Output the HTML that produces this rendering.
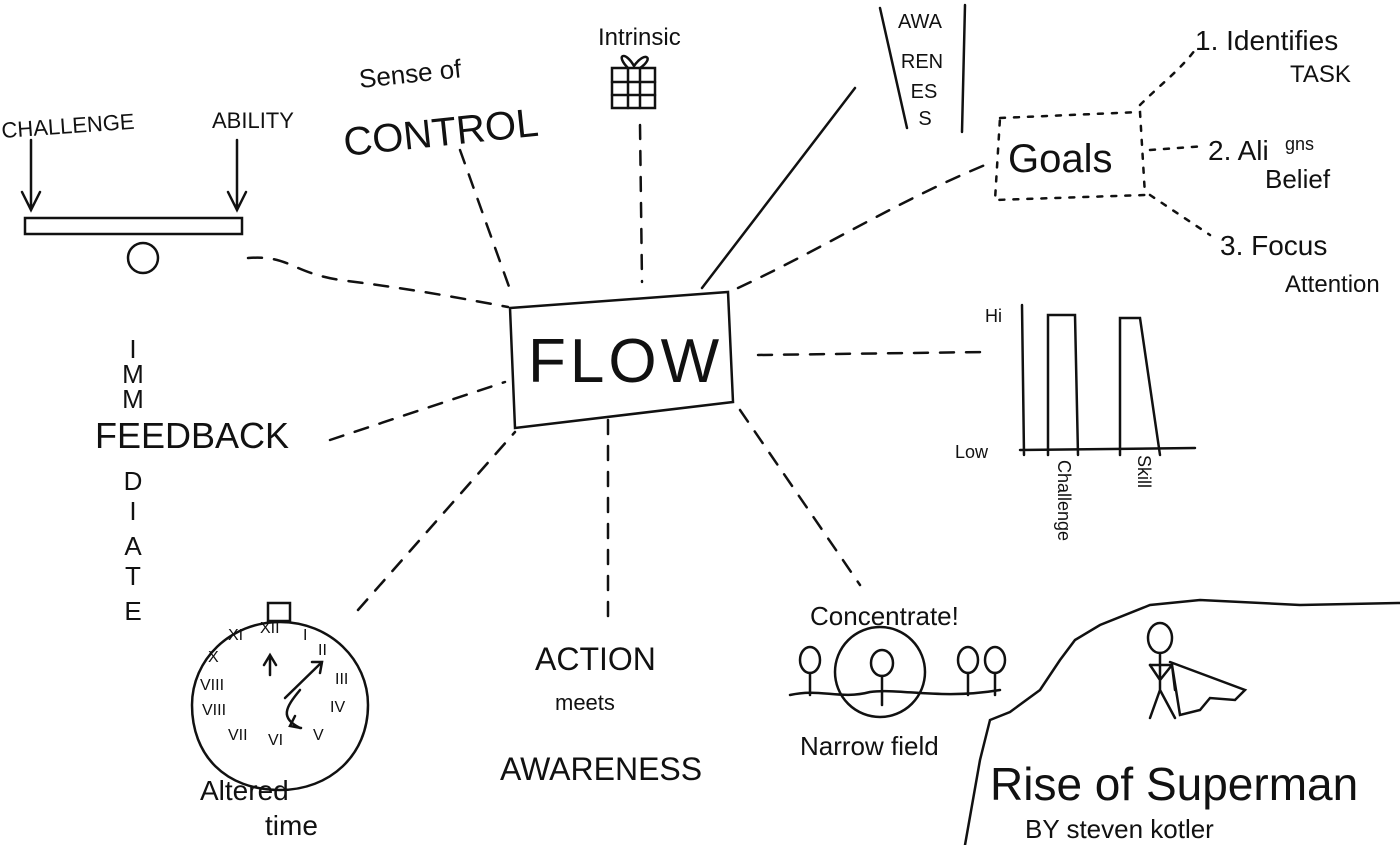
<!DOCTYPE html>
<html><head><meta charset="utf-8"><style>
html,body{margin:0;padding:0;background:#fff;}
svg{display:block;}
text{font-family:"Liberation Sans",sans-serif;fill:#111;}
</style></head><body>
<svg width="1400" height="845" viewBox="0 0 1400 845" xmlns="http://www.w3.org/2000/svg">
<rect width="1400" height="845" fill="#fff"/>
<g fill="none" stroke="#111" stroke-width="2.5" stroke-linecap="round">
<path d="M510 308 L728 292 L733 402 L515 428 Z"/>
<rect x="25" y="218" width="217" height="16"/>
<circle cx="143" cy="258" r="15"/>
<path d="M31 140 L31 210 M22 192 L31 210 L40 192"/>
<path d="M237 140 L237 210 M228 192 L237 210 L246 192"/>
<rect x="612" y="68" width="43" height="40"/>
<path d="M612 82 H655 M612 95 H655 M628 68 V108 M640 68 V108 M628 68 C615 55 625 50 634 66 C645 50 655 58 640 68"/>
<path d="M880 8 L907 128 M965 5 L962 132"/>
<path d="M702 288 L855 88"/>
<path d="M1022 305 L1024 455 M1020 450 L1195 448"/>
<path d="M1048 455 L1048 315 L1075 315 L1078 455"/>
<path d="M1120 455 L1120 318 L1140 318 L1160 455"/>
<path d="M280 622 C330 622 368 660 368 705 C368 755 330 790 280 790 C225 790 192 755 192 705 C192 660 230 622 280 622 Z"/>
<rect x="268" y="603" width="22" height="18"/>
<path d="M285 698 L322 662 M312 662 L322 662 L320 673"/>
<path d="M270 655 L270 675 M264 665 L270 655 L276 665"/>
<path d="M300 690 C285 708 280 718 300 728 M295 716 L290 726 L301 728"/>
<circle cx="880" cy="672" r="45"/>
<path d="M790 695 C820 688 840 700 870 692 C900 688 940 700 1000 690"/>
<ellipse cx="810" cy="660" rx="10" ry="13"/><path d="M810 673 L810 695"/>
<ellipse cx="882" cy="663" rx="11" ry="13"/><path d="M882 676 L882 705"/>
<ellipse cx="968" cy="660" rx="10" ry="13"/><path d="M968 673 L968 695"/>
<ellipse cx="995" cy="660" rx="10" ry="13"/><path d="M995 673 L995 695"/>
<path d="M965 845 L980 760 L990 720 L1010 712 L1040 690 L1060 660 L1075 640 L1100 625 L1150 605 L1200 600 L1300 605 L1400 603"/>
<ellipse cx="1160" cy="638" rx="12" ry="15"/>
<path d="M1160 653 L1160 690 M1160 690 L1150 718 M1160 690 L1175 718 M1150 665 L1160 680 L1172 665"/>
<path d="M1150 665 L1172 665 L1175 690 M1170 662 L1245 690 L1235 700 L1210 698 L1200 710 L1180 715 L1172 665"/>
</g>
<g fill="none" stroke="#111" stroke-width="2.5" stroke-dasharray="14 12" stroke-linecap="round">
<path d="M248 258 C290 255 290 272 340 280 C420 290 470 300 508 307"/>
<path d="M460 150 L512 295"/>
<path d="M640 125 L642 282"/>
<path d="M738 288 C820 250 900 200 985 165"/>
<path d="M758 355 L985 352"/>
<path d="M330 440 L505 382"/>
<path d="M358 610 L515 432"/>
<path d="M608 420 L608 620"/>
<path d="M740 410 L860 585"/>
</g>
<g fill="none" stroke="#111" stroke-width="2.5" stroke-dasharray="5 9" stroke-linecap="round">
<path d="M1000 118 L1140 112 L1145 195 L995 200 Z"/>
<path d="M1140 105 C1160 85 1180 70 1195 50"/>
<path d="M1150 150 L1205 146"/>
<path d="M1150 195 L1210 235"/>
</g>
<text x="528" y="382" font-size="62" letter-spacing="4">FLOW</text>
<text x="2" y="138" font-size="22" transform="rotate(-4 2 138)">CHALLENGE</text>
<text x="212" y="128" font-size="22">ABILITY</text>
<text x="360" y="88" font-size="26" transform="rotate(-6 360 88)">Sense of</text>
<text x="345" y="156" font-size="40" transform="rotate(-6 345 156)">CONTROL</text>
<text x="598" y="45" font-size="24">Intrinsic</text>
<g font-size="20" text-anchor="middle">
<text x="920" y="28">AWA</text><text x="922" y="68">REN</text><text x="924" y="98">ES</text><text x="925" y="125">S</text>
</g>
<text x="1008" y="172" font-size="40">Goals</text>
<text x="1195" y="50" font-size="28">1. Identifies</text>
<text x="1290" y="82" font-size="24">TASK</text>
<text x="1208" y="160" font-size="28">2. Ali</text>
<text x="1285" y="150" font-size="18">gns</text>
<text x="1265" y="188" font-size="26">Belief</text>
<text x="1220" y="255" font-size="28">3. Focus</text>
<text x="1285" y="292" font-size="24">Attention</text>
<text x="985" y="322" font-size="18">Hi</text>
<text x="955" y="458" font-size="18">Low</text>
<text x="1058" y="460" font-size="18" transform="rotate(90 1058 460)">Challenge</text>
<text x="1138" y="455" font-size="18" transform="rotate(90 1138 455)">Skill</text>
<g font-size="26" text-anchor="middle">
<text x="133" y="358">I</text><text x="133" y="383">M</text><text x="133" y="408">M</text>
<text x="133" y="490">D</text><text x="133" y="520">I</text><text x="133" y="555">A</text><text x="133" y="585">T</text><text x="133" y="620">E</text>
</g>
<text x="95" y="448" font-size="36">FEEDBACK</text>
<g font-size="16">
<text x="228" y="640">XI</text><text x="260" y="633">XII</text><text x="303" y="640">I</text><text x="318" y="655">II</text>
<text x="208" y="662">X</text><text x="200" y="690">VIII</text><text x="202" y="715">VIII</text><text x="228" y="740">VII</text>
<text x="268" y="745">VI</text><text x="313" y="740">V</text><text x="330" y="712">IV</text><text x="335" y="684">III</text>
</g>
<text x="200" y="800" font-size="28">Altered</text>
<text x="265" y="835" font-size="28">time</text>
<text x="535" y="670" font-size="32">ACTION</text>
<text x="555" y="710" font-size="22">meets</text>
<text x="500" y="780" font-size="32">AWARENESS</text>
<text x="810" y="625" font-size="26">Concentrate!</text>
<text x="800" y="755" font-size="26">Narrow field</text>
<text x="990" y="800" font-size="46">Rise of Superman</text>
<text x="1025" y="838" font-size="26">BY steven kotler</text>
</svg>
</body></html>
